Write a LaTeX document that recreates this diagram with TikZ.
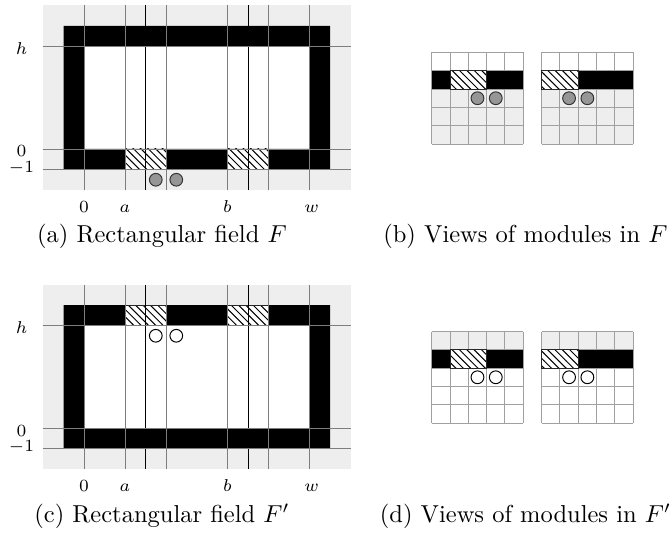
\documentclass[tikz,border=0pt]{standalone}
\usepackage{amsmath}
\usepackage{xcolor}
\usepackage{tikz}
\usetikzlibrary{patterns}
\definecolor{fieldgray}{RGB}{238,238,238}
\definecolor{linegray}{RGB}{125,125,125}
\definecolor{gridgray}{RGB}{160,160,160}
\definecolor{diskgray}{RGB}{150,150,150}

\begin{document}
\begin{tikzpicture}[
	x=0.2941cm, y=0.2941cm,
	% background and frame of the field
	field/.style={fill=fieldgray},
	wall/.style={fill=black, even odd rule},
	% lines through the field
	gline/.style={draw=linegray, line width=0.4pt},
	bline/.style={draw=black, line width=0.4pt},
	sgrid/.style={draw=gridgray, line width=0.4pt},
	% cells and modules
	hatch/.style={draw=black!85, line width=0.3pt, preaction={fill=white}, pattern=north west lines},
	disk/.style={draw=black!80, fill=diskgray, line width=0.4pt},
	hole/.style={draw=black, fill=white, line width=0.4pt},
	% texts
	tick/.style={font=\scriptsize, inner sep=0.5pt},
	caption/.style={anchor=base, font=\normalsize, inner sep=0pt}
	]
	
	\useasboundingbox (-4.098,-18.93) rectangle (28.68,7.268);
	
	% --- 1. RECTANGULAR FIELDS (a) AND (c) ---
	\foreach \pn/\oy/\hy/\cy/\dstyle/\cpt in {
		a/0/-1/-1.5/disk/{(a) Rectangular field $F$},
		c/-13.61/5/4.5/hole/{(c) Rectangular field $F'$}} {
		\begin{scope}[shift={(0,\oy)}]
			\fill[field] (-2,-2) rectangle (13,7);
			\fill[white] (0,0) rectangle (11,5);
			\fill[wall] (-1,-1) rectangle (12,6) (0,0) rectangle (11,5);
			% hatched cells
			\foreach \hx in {2,7}
				\draw[hatch] (\hx,\hy) rectangle ++(2,1);
			% lines
			\foreach \vx in {0,2,4,7,9,11}
				\draw[gline] (\vx,-2) -- (\vx,7);
			\foreach \vx in {3,8}
				\draw[bline] (\vx,-2) -- (\vx,7);
			\foreach \vy in {-1,0,5}
				\draw[gline] (-2,\vy) -- (13,\vy);
			% modules
			\foreach \cx in {3.5,4.5}
				\draw[\dstyle] (\cx,\cy) circle (0.31);
			% labels
			\node[tick] (h\pn) at (-3.05,4.9) {$h$};
			\node[tick] (zero\pn) at (-3.05,-0.12) {$0$};
			\node[tick] (mone\pn) at (-3.05,-0.92) {$-1$};
			\foreach \tx/\tl in {0/0, 2/a, 7/b, 11.1/w}
				\node[tick, anchor=base] (x\tl\pn) at (\tx,-3.1) {$\tl$};
			\node[caption] (cap\pn) at (3.8,-4.585) {\cpt};
		\end{scope}
	}
	
	% --- 2. VIEWS OF MODULES (b) AND (d) ---
	\foreach \pn/\oy/\lowc/\upc/\dstyle/\cpt in {
		b/0/fieldgray/white/disk/{(b) Views of modules in $F$},
		d/-13.61/white/fieldgray/hole/{(d) Views of modules in $F'$}} {
		\foreach \gx/\hx in {16.96/1, 22.32/0} {
			\begin{scope}[shift={(\gx,0.244+\oy)}, scale=0.8927]
				\fill[\lowc] (0,0) rectangle (5,3);
				\fill[\upc] (0,4) rectangle (5,5);
				\foreach \k in {0,...,5} {
					\draw[sgrid] (\k,0) -- (\k,5);
					\draw[sgrid] (0,\k) -- (5,\k);
				}
				\fill[black] (0,3) rectangle (5,4);
				\draw[hatch] (\hx,3) rectangle ++(2,1);
				\foreach \cx in {1.5,2.5}
					\draw[\dstyle] (\hx+\cx,2.5) circle (0.35);
			\end{scope}
		}
		\node[caption] (cap\pn) at (21.53,-4.585+\oy) {\cpt};
	}
\end{tikzpicture}
\end{document}
